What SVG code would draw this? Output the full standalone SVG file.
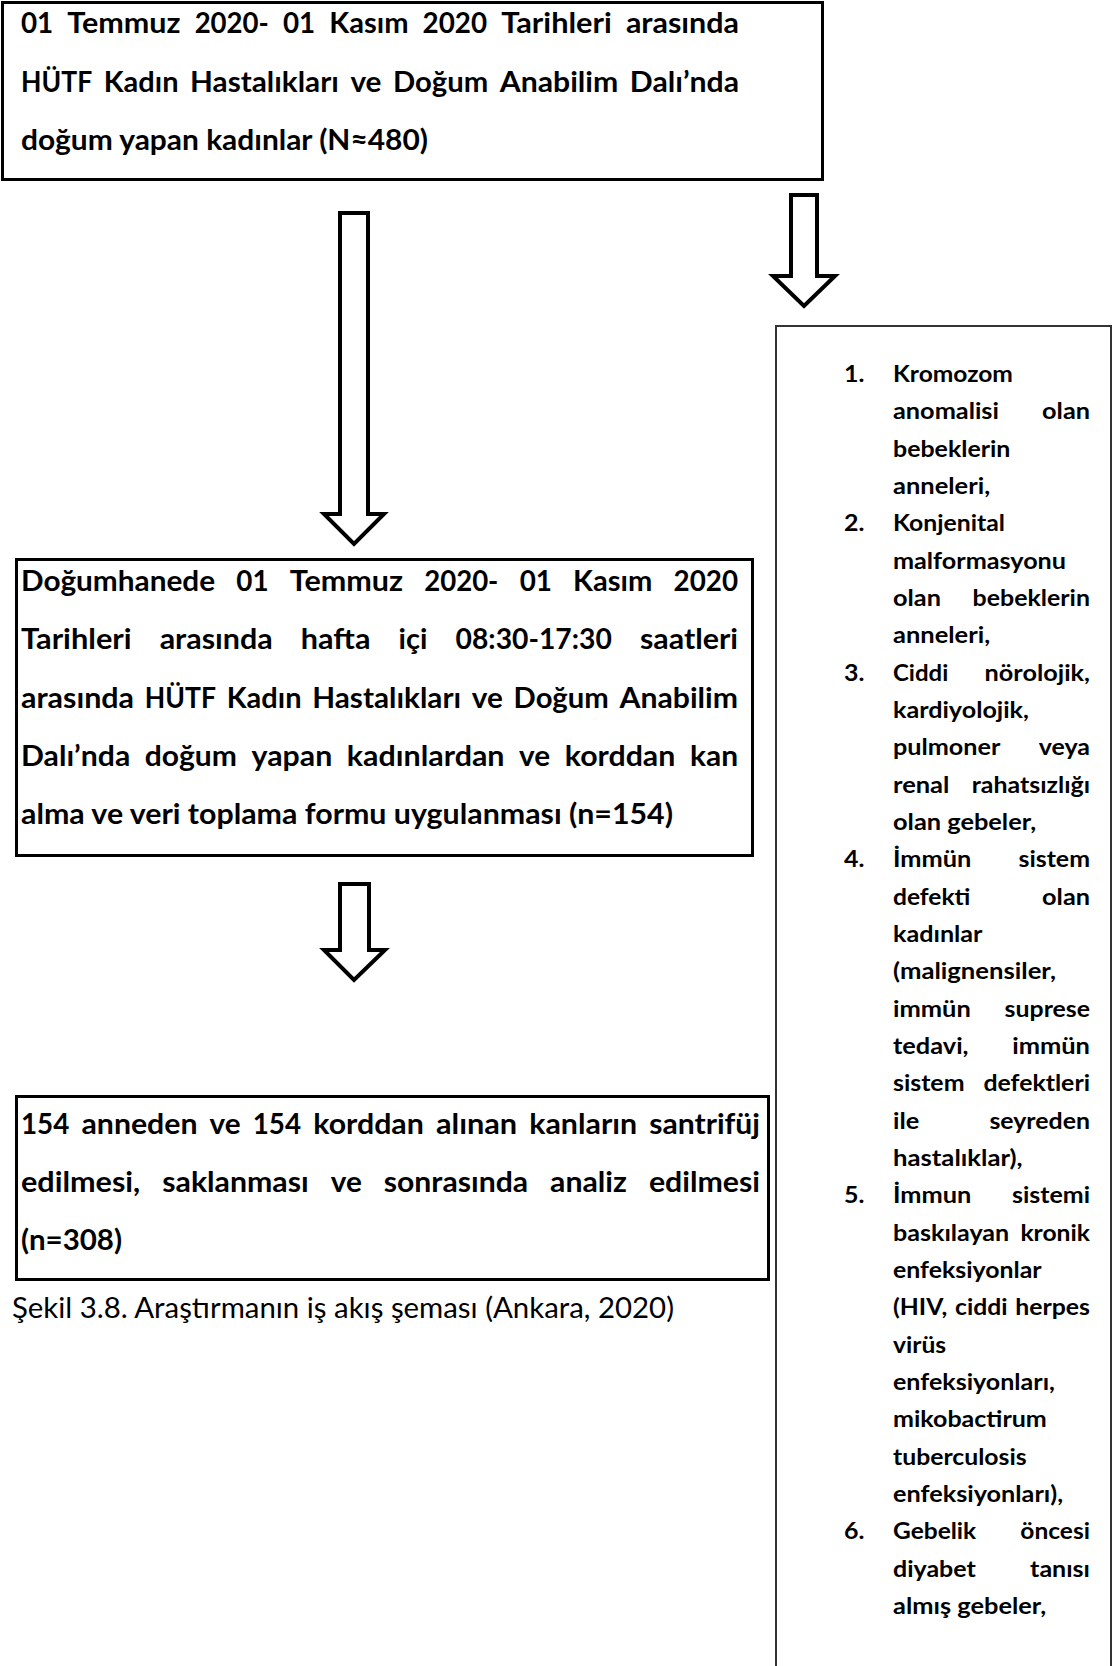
<svg xmlns="http://www.w3.org/2000/svg" width="1113" height="1666" viewBox="0 0 1113 1666">
<style>
text{fill:#000;font-family:Lato,"Open Sans","Liberation Sans",sans-serif}
.t{font-weight:700;font-size:28.6px}
.s{font-weight:700;font-size:23.7px}
.c{font-weight:400;font-size:28.6px}
.box{fill:#fff;stroke:#000;stroke-width:3}
.rbox{fill:#fff;stroke:#333;stroke-width:2}
.arr{fill:#fff;stroke:#000;stroke-width:4;stroke-linejoin:miter}
</style>
<rect width="1113" height="1666" fill="#fff"/>

<g id="connectors">
<polygon class="arr" points="340,213 368,213 368,514 384,514 354,544 324,514 340,514"/>
<polygon class="arr" points="791,195 817,195 817,276 835,276 804,306 773,276 791,276"/>
<polygon class="arr" points="340,884 369,884 369,950 385,950 354,980 324,950 340,950"/>
</g>

<g id="node-start">
<rect class="box" x="2.5" y="2.5" width="820" height="177"/>
<g class="t">
<text x="21" y="33" textLength="32.25" lengthAdjust="spacingAndGlyphs">01</text>
<text x="67.37" y="33" textLength="113.14" lengthAdjust="spacingAndGlyphs">Temmuz</text>
<text x="194.63" y="33" textLength="74.22" lengthAdjust="spacingAndGlyphs">2020-</text>
<text x="282.97" y="33" textLength="32.25" lengthAdjust="spacingAndGlyphs">01</text>
<text x="329.34" y="33" textLength="79.15" lengthAdjust="spacingAndGlyphs">Kasım</text>
<text x="422.61" y="33" textLength="64.49" lengthAdjust="spacingAndGlyphs">2020</text>
<text x="501.22" y="33" textLength="110.57" lengthAdjust="spacingAndGlyphs">Tarihleri</text>
<text x="625.91" y="33" textLength="113.08" lengthAdjust="spacingAndGlyphs">arasında</text>

<text x="21" y="91.5" textLength="71.17" lengthAdjust="spacingAndGlyphs">HÜTF</text>
<text x="103.75" y="91.5" textLength="74.76" lengthAdjust="spacingAndGlyphs">Kadın</text>
<text x="190.09" y="91.5" textLength="148.76" lengthAdjust="spacingAndGlyphs">Hastalıkları</text>
<text x="350.43" y="91.5" textLength="31.04" lengthAdjust="spacingAndGlyphs">ve</text>
<text x="393.05" y="91.5" textLength="95.15" lengthAdjust="spacingAndGlyphs">Doğum</text>
<text x="499.78" y="91.5" textLength="118.46" lengthAdjust="spacingAndGlyphs">Anabilim</text>
<text x="629.82" y="91.5" textLength="109.2" lengthAdjust="spacingAndGlyphs">Dalı’nda</text>

<text x="21" y="150" textLength="407" lengthAdjust="spacingAndGlyphs">doğum yapan kadınlar (N≈480)</text>
</g>
</g>

<g id="node-collection">
<rect class="box" x="16.5" y="559.5" width="736" height="296"/>
<g class="t">
<text x="21" y="591" textLength="194.08" lengthAdjust="spacingAndGlyphs">Doğumhanede</text>
<text x="236.32" y="591" textLength="32.25" lengthAdjust="spacingAndGlyphs">01</text>
<text x="289.81" y="591" textLength="113.14" lengthAdjust="spacingAndGlyphs">Temmuz</text>
<text x="424.19" y="591" textLength="74.22" lengthAdjust="spacingAndGlyphs">2020-</text>
<text x="519.65" y="591" textLength="32.25" lengthAdjust="spacingAndGlyphs">01</text>
<text x="573.14" y="591" textLength="79.15" lengthAdjust="spacingAndGlyphs">Kasım</text>
<text x="673.53" y="591" textLength="64.49" lengthAdjust="spacingAndGlyphs">2020</text>

<text x="21" y="649.3" textLength="110.57" lengthAdjust="spacingAndGlyphs">Tarihleri</text>
<text x="159.67" y="649.3" textLength="113.08" lengthAdjust="spacingAndGlyphs">arasında</text>
<text x="300.85" y="649.3" textLength="69.58" lengthAdjust="spacingAndGlyphs">hafta</text>
<text x="398.53" y="649.3" textLength="28.94" lengthAdjust="spacingAndGlyphs">içi</text>
<text x="455.57" y="649.3" textLength="156.27" lengthAdjust="spacingAndGlyphs">08:30-17:30</text>
<text x="639.94" y="649.3" textLength="98.07" lengthAdjust="spacingAndGlyphs">saatleri</text>

<text x="21" y="707.6" textLength="113.08" lengthAdjust="spacingAndGlyphs">arasında</text>
<text x="144.84" y="707.6" textLength="71.17" lengthAdjust="spacingAndGlyphs">HÜTF</text>
<text x="226.77" y="707.6" textLength="74.76" lengthAdjust="spacingAndGlyphs">Kadın</text>
<text x="312.29" y="707.6" textLength="148.76" lengthAdjust="spacingAndGlyphs">Hastalıkları</text>
<text x="471.81" y="707.6" textLength="31.04" lengthAdjust="spacingAndGlyphs">ve</text>
<text x="513.61" y="707.6" textLength="95.15" lengthAdjust="spacingAndGlyphs">Doğum</text>
<text x="619.52" y="707.6" textLength="118.46" lengthAdjust="spacingAndGlyphs">Anabilim</text>

<text x="21" y="766" textLength="109.2" lengthAdjust="spacingAndGlyphs">Dalı’nda</text>
<text x="144.81" y="766" textLength="92.19" lengthAdjust="spacingAndGlyphs">doğum</text>
<text x="251.61" y="766" textLength="80.64" lengthAdjust="spacingAndGlyphs">yapan</text>
<text x="346.86" y="766" textLength="157.63" lengthAdjust="spacingAndGlyphs">kadınlardan</text>
<text x="519.1" y="766" textLength="31.04" lengthAdjust="spacingAndGlyphs">ve</text>
<text x="564.75" y="766" textLength="110.6" lengthAdjust="spacingAndGlyphs">korddan</text>
<text x="689.96" y="766" textLength="48.05" lengthAdjust="spacingAndGlyphs">kan</text>

<text x="21" y="824.3" textLength="652" lengthAdjust="spacingAndGlyphs">alma ve veri toplama formu uygulanması (n=154)</text>
</g>
</g>

<g id="node-analysis">
<rect class="box" x="16.5" y="1096.5" width="752" height="183"/>
<g class="t">
<text x="21" y="1134" textLength="48.37" lengthAdjust="spacingAndGlyphs">154</text>
<text x="81.48" y="1134" textLength="116.01" lengthAdjust="spacingAndGlyphs">anneden</text>
<text x="209.6" y="1134" textLength="31.04" lengthAdjust="spacingAndGlyphs">ve</text>
<text x="252.75" y="1134" textLength="48.37" lengthAdjust="spacingAndGlyphs">154</text>
<text x="313.23" y="1134" textLength="110.6" lengthAdjust="spacingAndGlyphs">korddan</text>
<text x="435.94" y="1134" textLength="81.22" lengthAdjust="spacingAndGlyphs">alınan</text>
<text x="529.27" y="1134" textLength="107.77" lengthAdjust="spacingAndGlyphs">kanların</text>
<text x="649.15" y="1134" textLength="110.85" lengthAdjust="spacingAndGlyphs">santrifüj</text>

<text x="21" y="1192" textLength="119.28" lengthAdjust="spacingAndGlyphs">edilmesi,</text>
<text x="162.33" y="1192" textLength="146.34" lengthAdjust="spacingAndGlyphs">saklanması</text>
<text x="330.72" y="1192" textLength="31.04" lengthAdjust="spacingAndGlyphs">ve</text>
<text x="383.81" y="1192" textLength="144.24" lengthAdjust="spacingAndGlyphs">sonrasında</text>
<text x="550.1" y="1192" textLength="76.77" lengthAdjust="spacingAndGlyphs">analiz</text>
<text x="648.92" y="1192" textLength="111.08" lengthAdjust="spacingAndGlyphs">edilmesi</text>

<text x="21" y="1250" textLength="101" lengthAdjust="spacingAndGlyphs">(n=308)</text>
</g>
</g>

<g id="caption">
<text class="c" x="12" y="1318" textLength="662" lengthAdjust="spacingAndGlyphs">Şekil 3.8. Araştırmanın iş akış şeması (Ankara, 2020)</text>
</g>

<g id="node-exclusion">
<rect class="rbox" x="776" y="326" width="335" height="1400"/>
<g class="s">
<text x="844" y="382" textLength="20.4" lengthAdjust="spacingAndGlyphs">1.</text>
<text x="893" y="382" textLength="119.9" lengthAdjust="spacingAndGlyphs">Kromozom</text>
<text x="893" y="419.33" textLength="105.9" lengthAdjust="spacingAndGlyphs">anomalisi</text>
<text x="1042.1" y="419.33" textLength="47.9" lengthAdjust="spacingAndGlyphs">olan</text>
<text x="893" y="456.67" textLength="117.4" lengthAdjust="spacingAndGlyphs">bebeklerin</text>
<text x="893" y="494" textLength="97.1" lengthAdjust="spacingAndGlyphs">anneleri,</text>

<text x="844" y="531.33" textLength="20.4" lengthAdjust="spacingAndGlyphs">2.</text>
<text x="893" y="531.33" textLength="111.9" lengthAdjust="spacingAndGlyphs">Konjenital</text>
<text x="893" y="568.67" textLength="173" lengthAdjust="spacingAndGlyphs">malformasyonu</text>
<text x="893" y="606" textLength="47.9" lengthAdjust="spacingAndGlyphs">olan</text>
<text x="972.6" y="606" textLength="117.4" lengthAdjust="spacingAndGlyphs">bebeklerin</text>
<text x="893" y="643.33" textLength="97.1" lengthAdjust="spacingAndGlyphs">anneleri,</text>

<text x="844" y="680.67" textLength="20.4" lengthAdjust="spacingAndGlyphs">3.</text>
<text x="893" y="680.67" textLength="55.3" lengthAdjust="spacingAndGlyphs">Ciddi</text>
<text x="984.6" y="680.67" textLength="105.4" lengthAdjust="spacingAndGlyphs">nörolojik,</text>
<text x="893" y="718" textLength="135.9" lengthAdjust="spacingAndGlyphs">kardiyolojik,</text>
<text x="893" y="755.33" textLength="107.3" lengthAdjust="spacingAndGlyphs">pulmoner</text>
<text x="1038.7" y="755.33" textLength="51.3" lengthAdjust="spacingAndGlyphs">veya</text>
<text x="893" y="792.67" textLength="56.4" lengthAdjust="spacingAndGlyphs">renal</text>
<text x="971.7" y="792.67" textLength="118.3" lengthAdjust="spacingAndGlyphs">rahatsızlığı</text>
<text x="893" y="830" textLength="143.1" lengthAdjust="spacingAndGlyphs">olan gebeler,</text>

<text x="844" y="867.33" textLength="20.4" lengthAdjust="spacingAndGlyphs">4.</text>
<text x="893" y="867.33" textLength="78.3" lengthAdjust="spacingAndGlyphs">İmmün</text>
<text x="1018.5" y="867.33" textLength="71.5" lengthAdjust="spacingAndGlyphs">sistem</text>
<text x="893" y="904.67" textLength="77.4" lengthAdjust="spacingAndGlyphs">defekti</text>
<text x="1042.1" y="904.67" textLength="47.9" lengthAdjust="spacingAndGlyphs">olan</text>
<text x="893" y="942" textLength="89.5" lengthAdjust="spacingAndGlyphs">kadınlar</text>
<text x="893" y="979.33" textLength="162.9" lengthAdjust="spacingAndGlyphs">(malignensiler,</text>
<text x="893" y="1016.67" textLength="77.8" lengthAdjust="spacingAndGlyphs">immün</text>
<text x="1004.6" y="1016.67" textLength="85.4" lengthAdjust="spacingAndGlyphs">suprese</text>
<text x="893" y="1054" textLength="75.5" lengthAdjust="spacingAndGlyphs">tedavi,</text>
<text x="1012.2" y="1054" textLength="77.8" lengthAdjust="spacingAndGlyphs">immün</text>
<text x="893" y="1091.33" textLength="71.5" lengthAdjust="spacingAndGlyphs">sistem</text>
<text x="983.4" y="1091.33" textLength="106.6" lengthAdjust="spacingAndGlyphs">defektleri</text>
<text x="893" y="1128.67" textLength="26.3" lengthAdjust="spacingAndGlyphs">ile</text>
<text x="989.4" y="1128.67" textLength="100.6" lengthAdjust="spacingAndGlyphs">seyreden</text>
<text x="893" y="1166" textLength="129.6" lengthAdjust="spacingAndGlyphs">hastalıklar),</text>

<text x="844" y="1203.33" textLength="20.4" lengthAdjust="spacingAndGlyphs">5.</text>
<text x="893" y="1203.33" textLength="78.3" lengthAdjust="spacingAndGlyphs">İmmun</text>
<text x="1012" y="1203.33" textLength="78" lengthAdjust="spacingAndGlyphs">sistemi</text>
<text x="893" y="1240.67" textLength="116.2" lengthAdjust="spacingAndGlyphs">baskılayan</text>
<text x="1020.4" y="1240.67" textLength="69.6" lengthAdjust="spacingAndGlyphs">kronik</text>
<text x="893" y="1278" textLength="148.6" lengthAdjust="spacingAndGlyphs">enfeksiyonlar</text>
<text x="893" y="1315.33" textLength="54.36" lengthAdjust="spacingAndGlyphs">(HIV,</text>
<text x="955.06" y="1315.33" textLength="52.38" lengthAdjust="spacingAndGlyphs">ciddi</text>
<text x="1015.18" y="1315.33" textLength="74.82" lengthAdjust="spacingAndGlyphs">herpes</text>
<text x="893" y="1352.67" textLength="53.1" lengthAdjust="spacingAndGlyphs">virüs</text>
<text x="893" y="1390" textLength="161.9" lengthAdjust="spacingAndGlyphs">enfeksiyonları,</text>
<text x="893" y="1427.33" textLength="153.8" lengthAdjust="spacingAndGlyphs">mikobactirum</text>
<text x="893" y="1464.67" textLength="133.6" lengthAdjust="spacingAndGlyphs">tuberculosis</text>
<text x="893" y="1502" textLength="170.1" lengthAdjust="spacingAndGlyphs">enfeksiyonları),</text>

<text x="844" y="1539.33" textLength="20.4" lengthAdjust="spacingAndGlyphs">6.</text>
<text x="893" y="1539.33" textLength="83.2" lengthAdjust="spacingAndGlyphs">Gebelik</text>
<text x="1020.3" y="1539.33" textLength="69.7" lengthAdjust="spacingAndGlyphs">öncesi</text>
<text x="893" y="1576.67" textLength="82.8" lengthAdjust="spacingAndGlyphs">diyabet</text>
<text x="1030.1" y="1576.67" textLength="59.9" lengthAdjust="spacingAndGlyphs">tanısı</text>
<text x="893" y="1614" textLength="153.2" lengthAdjust="spacingAndGlyphs">almış gebeler,</text>
</g>
</g>
</svg>
